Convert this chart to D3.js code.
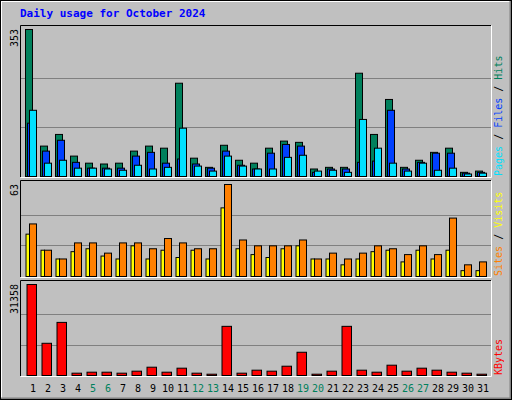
<!DOCTYPE html>
<html><head><meta charset="utf-8">
<script src="https://cdn.jsdelivr.net/npm/d3@7"></script>
<style>body{margin:0;background:#fff}svg{display:block}</style>
</head><body>
<svg id="c" width="512" height="400"></svg>
<script>
var days = d3.range(1, 32);
var weekends = [5, 6, 12, 13, 19, 20, 26, 27];
var hits   = [353,73,101,49,32,30,32,61,73,68,224,44,22,75,39,32,68,85,82,18,22,22,248,101,185,22,39,58,68,10,13];
var files  = [128,61,87,34,20,20,20,49,58,32,42,30,20,61,27,18,56,77,73,10,18,18,34,37,159,18,34,56,56,8,10];
var pages  = [159,32,39,20,20,18,15,27,18,22,116,25,13,49,25,18,18,46,51,13,15,10,137,68,32,13,32,15,20,6,8];
var sites  = [29,18,12,17,19,14,12,21,12,18,13,18,12,47,19,15,13,19,21,12,12,8,12,17,18,10,18,12,18,4,4];
var visits = [36,18,12,23,23,16,23,23,19,26,23,19,19,63,25,21,21,21,25,12,16,12,16,21,19,15,21,15,40,8,10];
var kbytes = [31358,11100,18300,800,1140,1140,800,1490,2860,1140,2520,800,450,16940,800,1830,1490,3200,8010,450,1490,16940,1830,1140,3550,1490,2520,1830,1140,800,450];

var svg = d3.select("#c");
var mono = "'DejaVu Sans Mono', monospace";

// frame
svg.append("rect").attr("x",0).attr("y",0).attr("width",512).attr("height",400).attr("fill","#c0c0c0");
svg.append("path").attr("d","M1,399V1H511").attr("stroke","#fff").attr("stroke-width",2).attr("fill","none");
svg.append("path").attr("d","M1,399H511V1").attr("stroke","#808080").attr("stroke-width",3).attr("fill","none");
svg.append("rect").attr("x",0.5).attr("y",0.5).attr("width",511).attr("height",399).attr("fill","none").attr("stroke","#000");

svg.append("text").attr("x",20).attr("y",17).attr("font-family",mono).attr("font-size",11)
  .attr("font-weight","bold").attr("fill","#0000ff").text("Daily usage for October 2024");

var x = d3.scaleBand().domain(days).range([25, 490]).paddingInner(0);

function panel(top, base, max, label) {
  svg.append("path").attr("d","M20.5,"+(base+1)+"V"+(top+0.5)+"H491").attr("stroke","#000").attr("fill","none");
  svg.append("path").attr("d","M20.5,"+(base+1.5)+"H491.5V"+(top+0.5)).attr("stroke","#fff").attr("fill","none");
  var y = d3.scaleLinear().domain([0, max]).range([base, top + 4]);
  [1/3, 2/3].forEach(function(f){
    var gy = Math.round(base - f*(base - top - 4)) + 0.5;
    svg.append("line").attr("x1",21).attr("x2",491).attr("y1",gy).attr("y2",gy).attr("stroke","#808080");
  });
  svg.append("text").attr("transform","translate(18,"+(top+4)+") rotate(-90)").attr("text-anchor","end")
    .attr("font-family",mono).attr("font-size",10).attr("fill","#000").text(label);
  return y;
}

function bars(y, vals, off, w, color) {
  svg.append("g").selectAll("rect").data(vals).enter().append("rect")
    .attr("x", function(d,i){ return x(days[i]) + off + 0.5; })
    .attr("y", function(d){ return y(d) + 0.5; })
    .attr("width", w)
    .attr("height", function(d,i){ return Math.max(0, y.range()[0] - y(d)); })
    .attr("fill", color).attr("stroke","#000");
}

var y1 = panel(25, 176, 353, "353");
bars(y1, hits, 0, 7, "#00805c");
bars(y1, files, 2, 7, "#0040ff");
bars(y1, pages, 4, 7, "#00e0ff");

var y2 = panel(180, 276, 63, "63");
bars(y2, sites, 0.5, 3.5, "#ffff00");
bars(y2, visits, 4, 7, "#ff8000");

var y3 = panel(280, 375, 31358, "31358");
bars(y3, kbytes, 1.5, 9.5, "#ff0000");

svg.append("g").selectAll("text").data(days).enter().append("text")
  .attr("x", function(d){ return x(d) + 8; }).attr("y", 392).attr("text-anchor","middle")
  .attr("font-family",mono).attr("font-size",10)
  .attr("fill", function(d){ return weekends.indexOf(d) >= 0 ? "#00805c" : "#000"; })
  .text(function(d){ return d; });

function sideLabel(yEnd, parts) {
  var t = svg.append("text").attr("transform","translate(502,"+yEnd+") rotate(-90)")
    .attr("font-family",mono).attr("font-size",10);
  parts.forEach(function(p){ t.append("tspan").attr("fill",p[1]).text(p[0]); });
}
sideLabel(176, [["Pages","#00e0ff"],[" / ","#000"],["Files","#0040ff"],[" / ","#000"],["Hits","#00805c"]]);
sideLabel(276, [["Sites","#ff8000"],[" / ","#000"],["Visits","#ffff00"]]);
sideLabel(375, [["KBytes","#ff0000"]]);
</script>
</body></html>
